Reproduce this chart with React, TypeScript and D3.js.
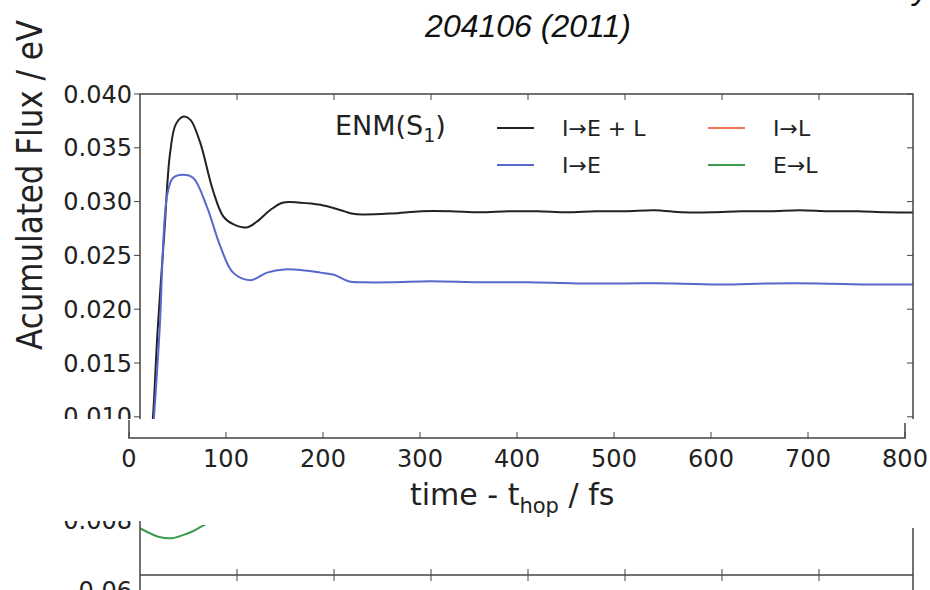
import React from "react";
import * as d3 from "d3";

const timeTotal = [8, 13, 18, 25, 31, 37, 45, 52, 62, 75, 86, 96, 110, 120, 134, 147, 165, 186, 207, 218, 230, 260, 290, 320, 350, 380, 410, 440, 470, 500, 530, 560, 590, 620, 650, 680, 710, 740, 770, 800];
const fluxTotal = [0.005, 0.0095, 0.0178, 0.027, 0.0345, 0.0372, 0.0379, 0.0376, 0.0355, 0.0311, 0.0286, 0.0279, 0.0276, 0.0281, 0.0292, 0.0299, 0.0299, 0.0297, 0.0292, 0.0289, 0.0288, 0.0289, 0.0291, 0.0291, 0.029, 0.0291, 0.0291, 0.029, 0.0291, 0.0291, 0.0292, 0.029, 0.029, 0.0291, 0.0291, 0.0292, 0.0291, 0.0291, 0.029, 0.029];

const timeIE = [10, 14, 20, 28, 34, 44, 55, 69, 83, 96, 114, 131, 149, 170, 186, 200, 215, 230, 260, 300, 350, 400, 450, 500, 550, 600, 650, 700, 750, 800];
const fluxIE = [0.0055, 0.0095, 0.0177, 0.0306, 0.0322, 0.0325, 0.0322, 0.0295, 0.0258, 0.0234, 0.0227, 0.0234, 0.0237, 0.0236, 0.0234, 0.0232, 0.0226, 0.0225, 0.0225, 0.0226, 0.0225, 0.0225, 0.0224, 0.0224, 0.0224, 0.0223, 0.0224, 0.0224, 0.0223, 0.0223];

const timeEL = [0, 10, 20, 33, 45, 55, 62, 72];
const fluxEL = [0.00785, 0.00776, 0.00769, 0.00767, 0.00773, 0.0078, 0.00787, 0.00796];

const yTicks = [0.01, 0.015, 0.02, 0.025, 0.03, 0.035, 0.04];
const xTicks = [0, 100, 200, 300, 400, 500, 600, 700, 800];
const legendItems = [
  { label: "I\u2192E + L", color: "#222222", col: 0, row: 0 },
  { label: "I\u2192E", color: "#5868cc", col: 0, row: 1 },
  { label: "I\u2192L", color: "#f2785a", col: 1, row: 0 },
  { label: "E\u2192L", color: "#3a9a4e", col: 1, row: 1 },
];

const FONT = "DejaVu Sans, sans-serif";

export default function App() {
  const left = 140, right = 913, top = 94;
  const x = d3.scaleLinear().domain([0, 800]).range([140, 916]);
  const y = d3.scaleLinear().domain([0, 0.04]).range([524.4, 94]);
  const xo = d3.scaleLinear().domain([0, 800]).range([129, 905]);
  const yLow = d3.scaleLinear().domain([0.007, 0.008]).range([575, 520]);

  const line = (ts: number[], vs: number[], ys: any) =>
    d3.line<number>().x((_, i) => x(ts[i])).y((v) => ys(v)).curve(d3.curveCatmullRom)(vs) || "";

  const legX = [497, 708];
  const legY = [128, 165];

  return (
    <svg width={930} height={590} style={{ position: "absolute", left: 0, top: 0, background: "#fff" }}>
      <defs>
        <clipPath id="topClip"><rect x={0} y={0} width={930} height={419} /></clipPath>
        <clipPath id="plotClip"><rect x={left} y={top} width={right - left} height={419 - top} /></clipPath>
        <clipPath id="lowClip"><rect x={0} y={521} width={930} height={80} /></clipPath>
        <clipPath id="lowPlot"><rect x={left} y={525} width={right - left} height={50} /></clipPath>
      </defs>
      <rect width={930} height={590} fill="#fff" />

      {/* title fragments */}
      <text x={913} y={-1} fontFamily="Liberation Sans, Arial, sans-serif" fontStyle="italic" fontSize={32} fill="#111">y</text>
      <text x={528} y={37} textAnchor="middle" fontFamily="Liberation Sans, Arial, sans-serif" fontStyle="italic" fontSize={32} fill="#111">204106 (2011)</text>

      {/* y label */}
      <text transform="translate(42,185) rotate(-90)" textAnchor="middle" fontFamily={FONT} fontSize={36}
        textLength={330} lengthAdjust="spacingAndGlyphs" fill="#222">Acumulated Flux / eV</text>

      {/* top panel */}
      <g clipPath="url(#topClip)">
        <g clipPath="url(#plotClip)">
          <path d={line(timeTotal, fluxTotal, y)} fill="none" stroke="#222" strokeWidth={2} />
          <path d={line(timeIE, fluxIE, y)} fill="none" stroke="#5868cc" strokeWidth={2} />
        </g>
        <path d={`M${left},430V${top}H${right}V430`} fill="none" stroke="#444" strokeWidth={1.5} />
        {yTicks.map((t) => (
          <g key={t}>
            <line x1={left - 6} x2={left} y1={y(t)} y2={y(t)} stroke="#444" strokeWidth={1} />
            <line x1={right - 6} x2={right} y1={y(t)} y2={y(t)} stroke="#444" strokeWidth={1} />
            <text x={132} y={y(t)} dy="0.36em" textAnchor="end" fontFamily={FONT} fontSize={24} fill="#222">{t.toFixed(3)}</text>
          </g>
        ))}
        {xTicks.slice(1, -1).map((t) => (
          <line key={t} x1={x(t)} x2={x(t)} y1={top} y2={top + 6} stroke="#444" strokeWidth={1} />
        ))}
        <text x={335} y={135} fontFamily={FONT} fontSize={27} fill="#222">ENM(S<tspan fontSize={19} dy={7}>1</tspan><tspan dy={-7}>)</tspan></text>
        {legendItems.map((d) => (
          <g key={d.label}>
            <line x1={legX[d.col]} x2={legX[d.col] + 37} y1={legY[d.row]} y2={legY[d.row]} stroke={d.color} strokeWidth={2} />
            <text x={legX[d.col] + 65} y={legY[d.row]} dy="0.36em" fontFamily={FONT} fontSize={22} fill="#222">{d.label}</text>
          </g>
        ))}
      </g>

      {/* overlaid x axis */}
      <path d={`M${xo(0)},420V438H${xo(800)}V423`} fill="none" stroke="#444" strokeWidth={1.5} />
      {xTicks.map((t) => (
        <g key={t}>
          <line x1={xo(t)} x2={xo(t)} y1={438} y2={432} stroke="#444" strokeWidth={1} />
          <text x={xo(t)} y={467} textAnchor="middle" fontFamily={FONT} fontSize={24} fill="#222">{t}</text>
        </g>
      ))}
      <text x={410} y={505} fontFamily={FONT} fontSize={30} fill="#222">time - t<tspan fontSize={21} dy={8}>hop</tspan><tspan dy={-8}> / fs</tspan></text>

      {/* lower fragment */}
      <g clipPath="url(#lowClip)">
        <g clipPath="url(#lowPlot)">
          <path d={line(timeEL, fluxEL, yLow)} fill="none" stroke="#3a9a4e" strokeWidth={2} />
        </g>
        <line x1={left} x2={left} y1={521} y2={590} stroke="#444" strokeWidth={1.5} />
        <line x1={right} x2={right} y1={528} y2={590} stroke="#444" strokeWidth={1.5} />
        <line x1={left} x2={right} y1={575} y2={575} stroke="#444" strokeWidth={1.5} />
        {xTicks.slice(1, -1).map((t) => (
          <line key={t} x1={x(t)} x2={x(t)} y1={569} y2={581} stroke="#444" strokeWidth={1} />
        ))}
        <text x={132} y={520} dy="0.36em" textAnchor="end" fontFamily={FONT} fontSize={24} fill="#222">0.008</text>
        <text x={132} y={590} dy="0.36em" textAnchor="end" fontFamily={FONT} fontSize={24} fill="#222">0.06</text>
      </g>
    </svg>
  );
}
